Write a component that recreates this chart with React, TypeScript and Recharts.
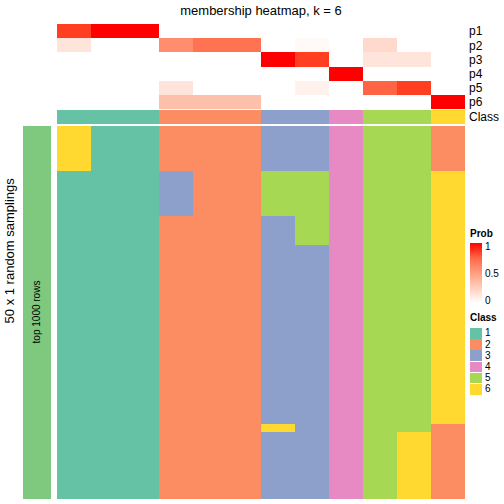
import { BarChart, Bar, XAxis, YAxis, Cell } from "recharts";

// samples (columns) of the consensus heatmap
const columns = ["c1", "c2", "c3", "c4", "c5", "c6", "c7", "c8", "c9", "c10", "c11", "c12"];

const probRows = ["p1", "p2", "p3", "p4", "p5", "p6"];

// membership probability per row (p1..p6) and column
const probP1 = [0.9, 1, 1, 0, 0, 0, 0, 0, 0, 0, 0, 0];
const probP2 = [0.14, 0, 0, 0.58, 0.7, 0.7, 0, 0.03, 0, 0.2, 0, 0];
const probP3 = [0, 0, 0, 0, 0, 0, 1, 0.9, 0, 0.14, 0.14, 0];
const probP4 = [0, 0, 0, 0, 0, 0, 0, 0, 1, 0, 0, 0];
const probP5 = [0, 0, 0, 0.14, 0, 0, 0, 0.07, 0, 0.76, 0.9, 0];
const probP6 = [0, 0, 0, 0.33, 0.33, 0.33, 0, 0, 0, 0, 0, 1];
const probs = [probP1, probP2, probP3, probP4, probP5, probP6];

const consensusClass = [1, 1, 1, 2, 2, 2, 3, 3, 4, 5, 5, 6];

// class calls of the 50 random samplings, grouped as identical runs
const samplingRuns = [
  { count: 6, classes: [6, 1, 1, 2, 2, 2, 3, 3, 4, 5, 5, 2] },
  { count: 6, classes: [1, 1, 1, 3, 2, 2, 5, 5, 4, 5, 5, 6] },
  { count: 4, classes: [1, 1, 1, 2, 2, 2, 3, 5, 4, 5, 5, 6] },
  { count: 24, classes: [1, 1, 1, 2, 2, 2, 3, 3, 4, 5, 5, 6] },
  { count: 1, classes: [1, 1, 1, 2, 2, 2, 6, 3, 4, 5, 5, 2] },
  { count: 9, classes: [1, 1, 1, 2, 2, 2, 3, 3, 4, 5, 6, 2] },
];

const classLabels = [1, 2, 3, 4, 5, 6];
const classColors: Record<number, string> = {
  1: "#66C2A5",
  2: "#FC8D62",
  3: "#8DA0CB",
  4: "#E78AC3",
  5: "#A6D854",
  6: "#FFD92F",
};

const probTicks = [1, 0.5, 0];

// white -> red, interpolated in Lab like colorRamp2
const WHITE_LAB = [100, 0, 0];
const RED_LAB = [53.24, 80.09, 67.2];

const probColor = (t: number): string => {
  const L = WHITE_LAB[0] + (RED_LAB[0] - WHITE_LAB[0]) * t;
  const a = WHITE_LAB[1] + (RED_LAB[1] - WHITE_LAB[1]) * t;
  const b = WHITE_LAB[2] + (RED_LAB[2] - WHITE_LAB[2]) * t;
  const fy = (L + 16) / 116;
  const fx = fy + a / 500;
  const fz = fy - b / 200;
  const finv = (v: number) => (v ** 3 > 0.008856 ? v ** 3 : (v - 16 / 116) / 7.787);
  const X = 0.95047 * finv(fx);
  const Y = finv(fy);
  const Z = 1.08883 * finv(fz);
  const lin = [
    3.2406 * X - 1.5372 * Y - 0.4986 * Z,
    -0.9689 * X + 1.8758 * Y + 0.0415 * Z,
    0.0557 * X - 0.204 * Y + 1.057 * Z,
  ];
  const hex = lin
    .map((c) => {
      const s = c <= 0.0031308 ? 12.92 * c : 1.055 * Math.pow(c, 1 / 2.4) - 0.055;
      const v = Math.round(Math.min(1, Math.max(0, s)) * 255);
      return v.toString(16).padStart(2, "0");
    })
    .join("");
  return `#${hex}`;
};

const samplingRows: number[][] = samplingRuns.flatMap((run) =>
  Array.from({ length: run.count }, () => run.classes)
);

const unitRow = (keys: string[]) =>
  columns.map((col) => {
    const d: Record<string, string | number> = { col };
    keys.forEach((k) => (d[k] = 1));
    return d;
  });

const probData = unitRow(probRows);
const classData = unitRow(["cls"]);
const mainKeys = samplingRows.map((_, i) => `r${i}`);
const mainData = unitRow(mainKeys);
const sideData = [{ col: "rows", v: 1 }];

const FONT = "'Liberation Sans', Arial, Helvetica, sans-serif";
const rightTick = { fill: "#000", fontSize: 12 };

const RotatedLabel = ({ text, cx, cy, size, width }: { text: string; cx: number; cy: number; size: number; width: number }) => (
  <div
    style={{
      position: "absolute",
      left: cx - width / 2,
      top: cy - size * 0.6,
      width,
      textAlign: "center",
      fontSize: size,
      lineHeight: `${size * 1.2}px`,
      transform: "rotate(-90deg)",
      whiteSpace: "nowrap",
    }}
  >
    {text}
  </div>
);

export default function App() {
  const gradientStops = [0, 0.25, 0.5, 0.75, 1].map((t) => `${probColor(1 - t)} ${t * 100}%`).join(", ");

  return (
    <div
      className="hm"
      style={{ position: "absolute", left: 0, top: 0, width: 504, height: 504, background: "#fff", fontFamily: FONT, color: "#000" }}
    >
      <style>{`.hm path { shape-rendering: crispEdges; }`}</style>

      <div style={{ position: "absolute", left: 57, width: 408, top: 3, textAlign: "center", fontSize: 13, lineHeight: "15px" }}>
        membership heatmap, k = 6
      </div>

      {/* probability rows */}
      <div style={{ position: "absolute", left: 57, top: 24 }}>
        <BarChart width={448} height={85} data={probData} margin={{ top: 0, right: 0, bottom: 0, left: 0 }} barCategoryGap={0} barGap={0}>
          <XAxis dataKey="col" hide />
          <YAxis
            type="number"
            domain={[0, 6]}
            reversed
            orientation="right"
            width={40}
            ticks={[0.5, 1.5, 2.5, 3.5, 4.5, 5.5]}
            tickFormatter={(v: number) => probRows[Math.floor(v)]}
            axisLine={false}
            tickLine={false}
            tickSize={2}
            tickMargin={2}
            tick={rightTick}
            interval={0}
          />
          {probRows.map((key, i) => (
            <Bar key={key} dataKey={key} stackId="p" isAnimationActive={false}>
              {columns.map((c, j) => (
                <Cell key={c} fill={probColor(probs[i][j])} />
              ))}
            </Bar>
          ))}
        </BarChart>
      </div>

      {/* consensus class row */}
      <div style={{ position: "absolute", left: 57, top: 110 }}>
        <BarChart width={448} height={14} data={classData} margin={{ top: 0, right: 0, bottom: 0, left: 0 }} barCategoryGap={0} barGap={0}>
          <XAxis dataKey="col" hide />
          <YAxis
            type="number"
            domain={[0, 1]}
            orientation="right"
            width={40}
            ticks={[0.5]}
            tickFormatter={() => "Class"}
            axisLine={false}
            tickLine={false}
            tickSize={2}
            tickMargin={2}
            tick={rightTick}
            interval={0}
          />
          <Bar dataKey="cls" isAnimationActive={false}>
            {consensusClass.map((k, j) => (
              <Cell key={j} fill={classColors[k]} />
            ))}
          </Bar>
        </BarChart>
      </div>

      {/* side annotation */}
      <div style={{ position: "absolute", left: 23, top: 126 }}>
        <BarChart width={28} height={373} data={sideData} margin={{ top: 0, right: 0, bottom: 0, left: 0 }} barCategoryGap={0}>
          <XAxis dataKey="col" hide />
          <YAxis type="number" domain={[0, 1]} hide />
          <Bar dataKey="v" fill="#7FC97F" isAnimationActive={false} />
        </BarChart>
      </div>

      {/* random samplings */}
      <div style={{ position: "absolute", left: 57, top: 126 }}>
        <BarChart width={408} height={373} data={mainData} margin={{ top: 0, right: 0, bottom: 0, left: 0 }} barCategoryGap={0} barGap={0}>
          <XAxis dataKey="col" hide />
          <YAxis type="number" domain={[0, samplingRows.length]} reversed hide />
          {samplingRows.map((cls, i) => (
            <Bar key={mainKeys[i]} dataKey={mainKeys[i]} stackId="m" isAnimationActive={false}>
              {cls.map((k, j) => (
                <Cell key={j} fill={classColors[k]} />
              ))}
            </Bar>
          ))}
        </BarChart>
      </div>

      <RotatedLabel text="50 x 1 random samplings" cx={10} cy={251} size={13} width={180} />
      <RotatedLabel text="top 1000 rows" cx={37} cy={312} size={10} width={120} />

      {/* legends */}
      <div style={{ position: "absolute", left: 470, top: 228, fontSize: 10, fontWeight: "bold", lineHeight: "12px" }}>Prob</div>
      <div style={{ position: "absolute", left: 470, top: 243, width: 12, height: 60, background: `linear-gradient(to bottom, ${gradientStops})` }} />
      {probTicks.map((t) => (
        <div
          key={t}
          style={{ position: "absolute", left: 485, top: 246.5 + (1 - t) * 54.5 - 6, fontSize: 10, lineHeight: "12px" }}
        >
          {t}
        </div>
      ))}

      <div style={{ position: "absolute", left: 470, top: 311.5, fontSize: 10, fontWeight: "bold", lineHeight: "12px" }}>Class</div>
      {classLabels.map((k, i) => (
        <div key={k}>
          <div style={{ position: "absolute", left: 470, top: 328 + i * 11.2, width: 12, height: 10.5, background: classColors[k] }} />
          <div style={{ position: "absolute", left: 485, top: 333.3 + i * 11.2 - 6, fontSize: 10, lineHeight: "12px" }}>{k}</div>
        </div>
      ))}
    </div>
  );
}
